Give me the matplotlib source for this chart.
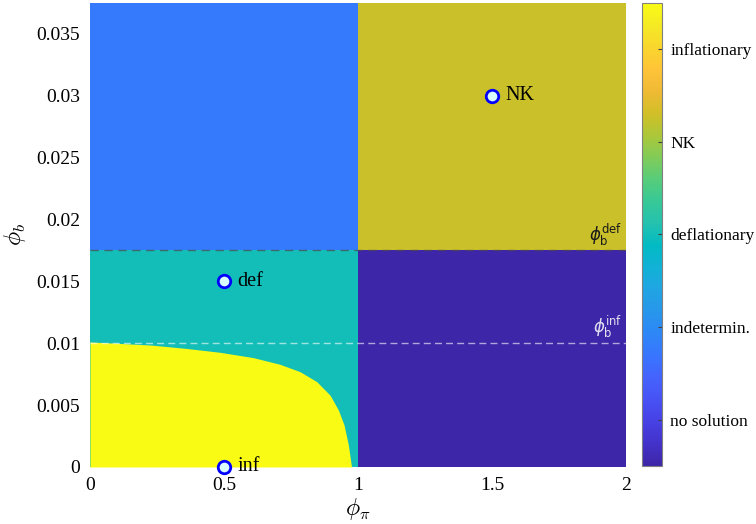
import matplotlib
matplotlib.use("Agg")
import matplotlib.pyplot as plt
import numpy as np
from matplotlib.colors import LinearSegmentedColormap, Normalize
from matplotlib.ticker import FuncFormatter


# equilibrium regions on the (phi_pi, phi_b) grid
PHI_PI_EDGES = [0.0, 1.0, 2.0]
PHI_B_EDGES = [0.0, 0.0175, 0.0375]
# codes: 0 no solution, 1 indeterminate, 2 deflationary, 3 NK, 4 inflationary
REGION_CODES = [[2, 0],
                [1, 3]]
INF_CODE = 4

# upper edge of the inflationary region (phi_pi, phi_b)
INF_EDGE_PI = [0.0, 0.10, 0.23, 0.36, 0.485, 0.609, 0.709, 0.784, 0.846,
               0.896, 0.927, 0.948, 0.964, 0.976]
INF_EDGE_B = [0.0101, 0.0100, 0.00985, 0.00958, 0.00927, 0.00884, 0.0083,
              0.0077, 0.0069, 0.0058, 0.0046, 0.0034, 0.0018, 0.0]

PHI_B_DEF = 0.0175
PHI_B_INF = 0.0100

POINT_PI = [0.5, 0.5, 1.5]
POINT_B = [0.015, 0.0, 0.03]
POINT_NAMES = ["def", "inf", "NK"]

CBAR_TICKS = [0.4, 1.2, 2.0, 2.8, 3.6]
CBAR_LABELS = ["no solution", "indetermin.", "deflationary", "NK", "inflationary"]

PARULA = [
    (0.2422, 0.1504, 0.6603), (0.2647, 0.1978, 0.7952), (0.2783, 0.2559, 0.8991),
    (0.2810, 0.3228, 0.9579), (0.2699, 0.3892, 0.9906), (0.2206, 0.4603, 0.9973),
    (0.1786, 0.5289, 0.9682), (0.1540, 0.5902, 0.9218), (0.1248, 0.6459, 0.8883),
    (0.0689, 0.6948, 0.8394), (0.0067, 0.7312, 0.7660), (0.1408, 0.7584, 0.6842),
    (0.2161, 0.7843, 0.5923), (0.3406, 0.8008, 0.4789), (0.5044, 0.7993, 0.3480),
    (0.6720, 0.7793, 0.2227), (0.8203, 0.7498, 0.1535), (0.9393, 0.7288, 0.2100),
    (0.9970, 0.7659, 0.2199), (0.9786, 0.8386, 0.1766), (0.9597, 0.9135, 0.1423),
    (0.9769, 0.9839, 0.0805),
]


def main():
    plt.rcParams["font.family"] = ["Liberation Serif", "DejaVu Serif"]
    plt.rcParams["mathtext.fontset"] = "cm"

    cmap = LinearSegmentedColormap.from_list("parula", PARULA, N=256)
    norm = Normalize(vmin=0, vmax=4)

    fig = plt.figure(figsize=(7.56, 5.24), dpi=100)
    ax = fig.add_axes([0.119, 0.1088, 0.709, 0.8855])
    cax = fig.add_axes([0.849, 0.111, 0.0265, 0.8835])

    mesh = ax.pcolormesh(PHI_PI_EDGES, PHI_B_EDGES, np.array(REGION_CODES),
                         cmap=cmap, norm=norm, shading="flat")
    ax.fill_between(INF_EDGE_PI, 0, INF_EDGE_B, color=cmap(norm(INF_CODE)),
                    linewidth=0)

    ax.axhline(PHI_B_DEF, color="#4a4a4a", alpha=0.7, lw=1.0, dashes=(6, 4))
    ax.axhline(PHI_B_INF, color="white", alpha=0.6, lw=1.0, dashes=(5, 3))
    ax.text(1.985, PHI_B_DEF + 0.0002, r"$\phi_{\mathrm{b}}^{\mathrm{def}}$",
            ha="right", va="bottom", fontsize=12, color="#1a1a1a",
            math_fontfamily="dejavusans")
    ax.text(1.985, PHI_B_INF + 0.0003, r"$\phi_{\mathrm{b}}^{\mathrm{inf}}$",
            ha="right", va="bottom", fontsize=12, color="#e0e0f0",
            math_fontfamily="dejavusans")

    ax.plot(POINT_PI, POINT_B, "o", ms=9, mfc="#d8fcff", mec="#0000ff",
            mew=2.0, ls="none", clip_on=False, zorder=5)
    for x, y, name in zip(POINT_PI, POINT_B, POINT_NAMES):
        ax.text(x + 0.05, y, name, ha="left", va="center", fontsize=14.5,
                zorder=6, clip_on=False)

    ax.set_xlim(0, 2)
    ax.set_ylim(0, 0.0375)
    ax.set_xticks([0, 0.5, 1, 1.5, 2])
    ax.set_yticks(np.arange(0, 0.0351, 0.005))
    fmt = FuncFormatter(lambda v, pos: f"{v:g}")
    ax.xaxis.set_major_formatter(fmt)
    ax.yaxis.set_major_formatter(fmt)
    ax.tick_params(length=0, labelsize=14, pad=7)
    for spine in ax.spines.values():
        spine.set_visible(False)
    ax.set_xlabel(r"$\phi_\pi$", fontsize=17, labelpad=2)
    ax.set_ylabel(r"$\phi_b$", fontsize=17, labelpad=6)

    cbar = fig.colorbar(mesh, cax=cax)
    cbar.set_ticks(CBAR_TICKS)
    cbar.set_ticklabels(CBAR_LABELS)
    cbar.ax.tick_params(direction="in", length=3, width=0.8, color="#404040",
                        labelsize=12.5, pad=6)
    cbar.outline.set_edgecolor("#808080")
    cbar.outline.set_linewidth(0.8)

    fig.savefig("out.png", dpi=100)
    plt.close(fig)


if __name__ == "__main__":
    main()
